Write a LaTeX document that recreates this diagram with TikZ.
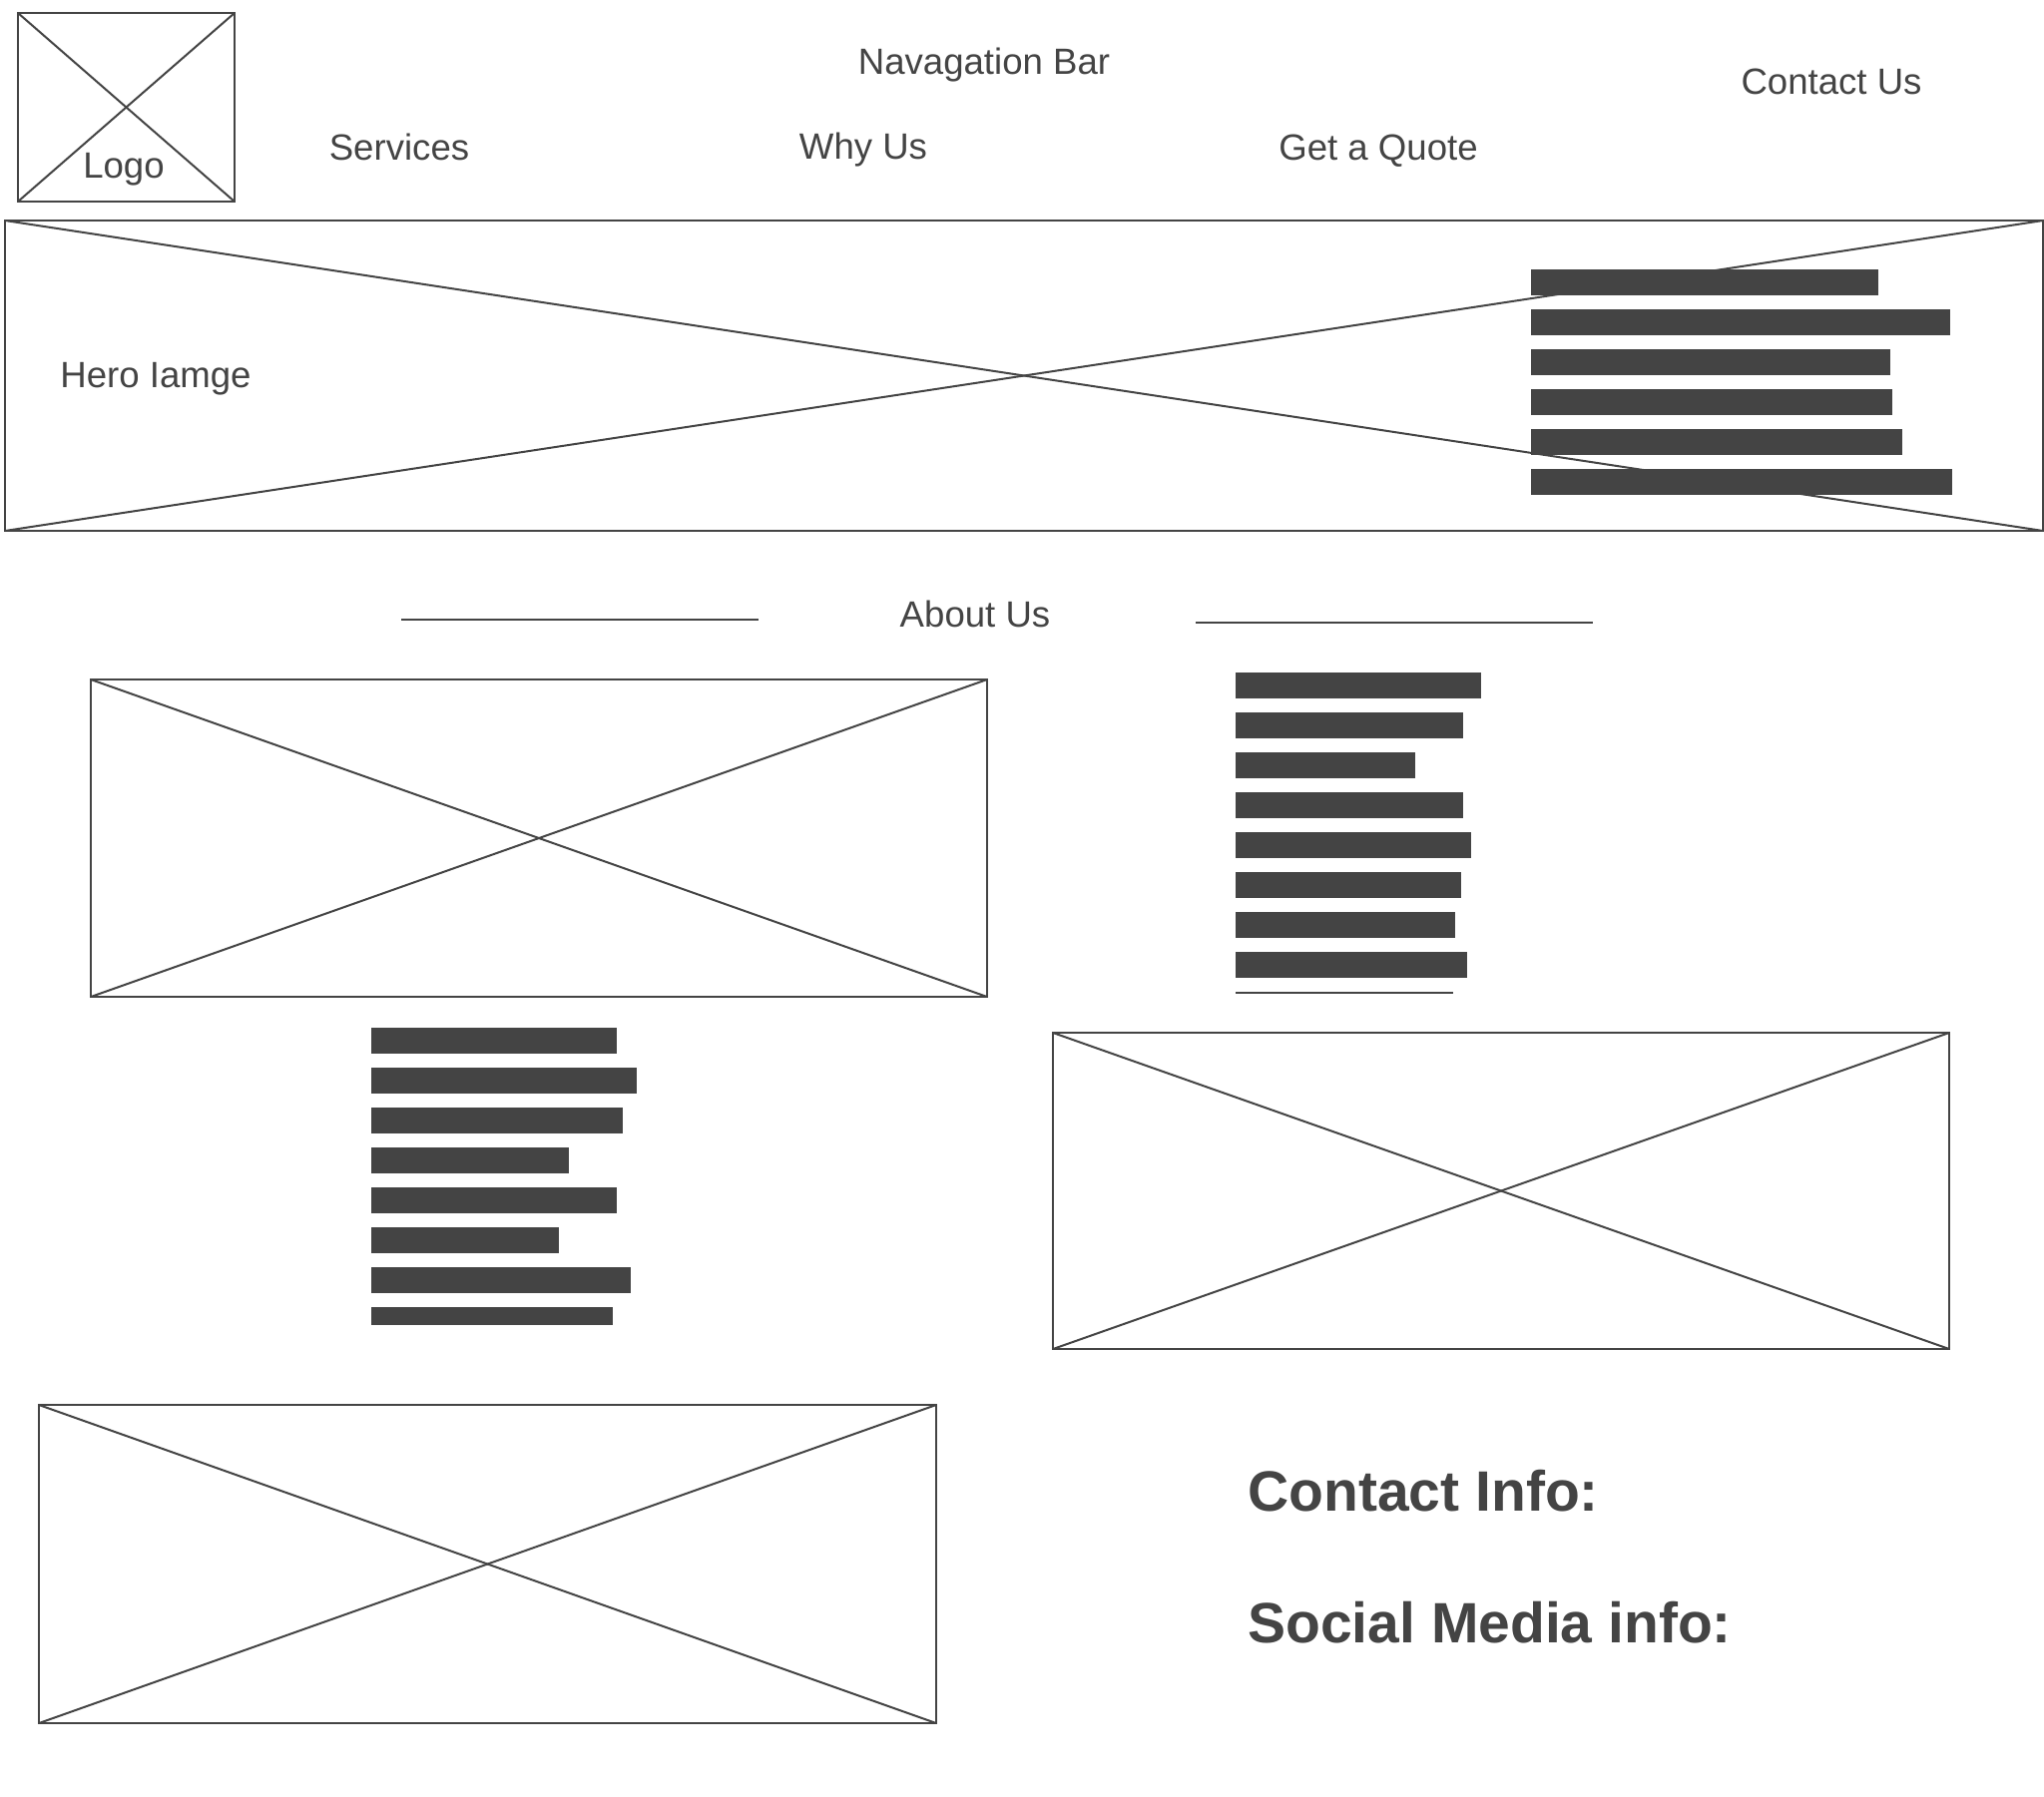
\documentclass[tikz,border=0pt]{standalone}
\usepackage{fontspec}
\setmainfont{Liberation Sans}
\definecolor{ink}{HTML}{444444}
\begin{document}
\begin{tikzpicture}[x=0.5pt,y=-0.5pt]
\tikzset{
  wire/.style={draw=ink, line width=1pt},
  imgbox/.style={draw=ink, line width=1pt, rectangle, inner sep=0pt, outer sep=0pt, anchor=north west},
  bar/.style={fill=ink, rectangle, inner sep=0pt, outer sep=0pt, minimum height=13pt, anchor=north west},
  lbl/.style={text=ink, font=\fontsize{18.3}{21}\selectfont, inner sep=0pt, anchor=base},
  big/.style={text=ink, font=\bfseries\fontsize{28.5}{32}\selectfont, inner sep=0pt, anchor=base west}
}
\useasboundingbox (0,0) rectangle (2048,1800);
\fill[white] (0,0) rectangle (2048,1800);

% image placeholders
\node[imgbox, minimum width=108.5pt, minimum height=94.5pt] (logo) at (18,13) {};
\node[imgbox, minimum width=1021pt, minimum height=155.5pt] (hero) at (5,221) {};
\node[imgbox, minimum width=449pt, minimum height=159pt] (imgA) at (91,681) {};
\node[imgbox, minimum width=449pt, minimum height=158.5pt] (imgB) at (1055,1035) {};
\node[imgbox, minimum width=449.5pt, minimum height=159.5pt] (imgC) at (39,1408) {};
\foreach \n in {logo,hero,imgA,imgB,imgC}{
  \draw[wire] (\n.north west) -- (\n.south east);
  \draw[wire] (\n.south west) -- (\n.north east);
}

% hero text bars
\foreach \w [count=\i] in {174,210,180,181,186,211}
  \node[bar, minimum width=\w pt] (hb\i) at (1534,{270+40*(\i-1)}) {};

% about us right bars
\foreach \w [count=\i] in {123,114,90,114,118,113,110,116}
  \node[bar, minimum width=\w pt] (ab\i) at (1238,{674+40*(\i-1)}) {};
\coordinate (ulA) at (1238,995);
\coordinate (ulB) at (1456,995);
\draw[wire] (ulA) -- (ulB);

% left bars
\foreach \w [count=\i] in {123,133,126,99,123,94,130}
  \node[bar, minimum width=\w pt] (lb\i) at (372,{1030+40*(\i-1)}) {};
\node[bar, minimum width=121pt, minimum height=9pt] (lb8) at (372,1310) {};

% about us lines
\coordinate (l1a) at (402,621);
\coordinate (l1b) at (760,621);
\coordinate (l2a) at (1198,624);
\coordinate (l2b) at (1596,624);
\draw[wire] (l1a) -- (l1b);
\draw[wire] (l2a) -- (l2b);

% labels
\node[lbl] (tlogo) at (124,178) {Logo};
\node[lbl] (tnav) at (986,74) {Navagation Bar};
\node[lbl] (tcont) at (1835,94) {Contact Us};
\node[lbl] (tserv) at (400,160) {Services};
\node[lbl] (twhy) at (865,159) {Why Us};
\node[lbl] (tquote) at (1381,160) {Get a Quote};
\node[lbl] (thero) at (156,388) {Hero Iamge};
\node[lbl] (tabout) at (977,628) {About Us};
\node[big] (tci) at (1250,1514) {Contact Info:};
\node[big] (tsm) at (1250,1646) {Social Media info:};
\end{tikzpicture}
\end{document}
